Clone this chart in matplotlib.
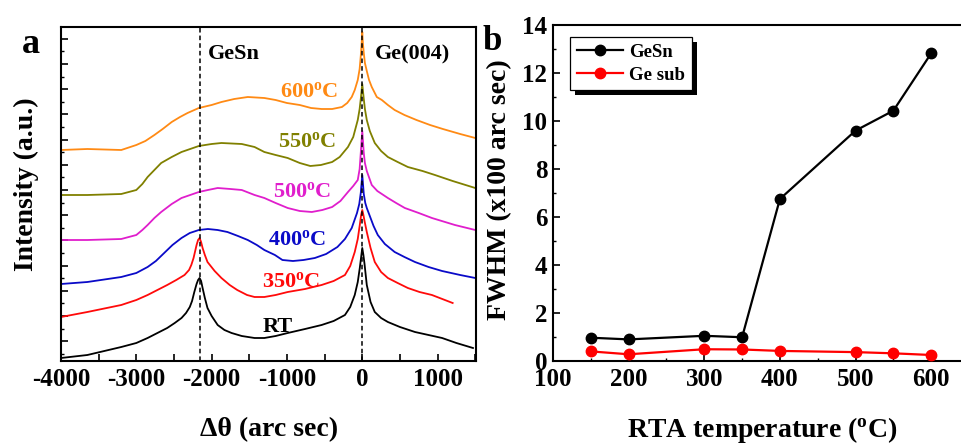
import matplotlib
matplotlib.use("Agg")
import matplotlib.pyplot as plt
from matplotlib.ticker import MultipleLocator, FixedLocator, NullFormatter
from matplotlib.patches import Rectangle
from matplotlib.transforms import IdentityTransform
import numpy as np

plt.rcParams["font.family"] = ["Liberation Serif", "DejaVu Serif"]
plt.rcParams["font.weight"] = "bold"
plt.rcParams["axes.unicode_minus"] = False
plt.rcParams["mathtext.fontset"] = "custom"
plt.rcParams["mathtext.rm"] = "Liberation Serif:bold"
plt.rcParams["mathtext.bf"] = "Liberation Serif:bold"
plt.rcParams["mathtext.it"] = "Liberation Serif:bold:italic"

# ---- (a) XRD rocking curves, offset vertically (arbitrary units) ----
theta_600 = [-4000, -3650, -3200, -3000, -2880, -2760, -2650, -2530, -2420, -2320, -2170,
             -2000, -1870, -1700, -1520, -1300, -1150, -1000, -830, -680, -540, -400,
             -270, -200, -140, -100, -60, -35, -20, -8, 0, 8, 20, 35, 60, 90, 126, 193,
             260, 340, 430, 560, 720, 900, 1070, 1300, 1500]
int_600 = [211, 212, 211, 216, 220, 226, 232, 239, 244, 248, 253,
           256, 259, 262, 264, 263, 261, 258, 256, 253, 252, 252,
           254, 258, 264, 271, 281, 292, 305, 318, 329, 318, 308, 298, 290, 281, 274, 264,
           261, 256, 251, 246, 241, 236, 232, 227, 223]

theta_550 = [-4000, -3650, -3200, -3000, -2920, -2850, -2760, -2670, -2530, -2400, -2170,
             -2000, -1870, -1600, -1430, -1300, -1150, -990, -830, -690, -550, -400,
             -300, -190, -120, -60, -35, -20, 0, 20, 35, 60, 100, 166, 250, 340, 470,
             605, 800, 965, 1200, 1500]
int_550 = [166, 166, 167, 171, 177, 184, 191, 198, 204, 209, 215,
           217, 218, 217, 214, 209, 206, 203, 198, 195, 196, 199,
           204, 214, 224, 241, 252, 262, 277, 262, 252, 241, 230, 218, 210, 204, 199,
           194, 190, 186, 180, 173]

theta_500 = [-4000, -3650, -3200, -3000, -2920, -2850, -2760, -2670, -2530, -2400, -2170,
             -2050, -1920, -1750, -1600, -1430, -1300, -1150, -990, -830, -670, -530,
             -400, -290, -190, -120, -60, -35, -20, 0, 20, 35, 60, 126, 200, 340, 450,
             565, 750, 925, 1230, 1500]
int_500 = [121, 121, 122, 126, 131, 136, 143, 149, 157, 163, 169,
           171, 173, 172, 171, 166, 163, 158, 153, 150, 149, 151,
           154, 160, 169, 175, 181, 192, 208, 230, 208, 198, 190, 176, 170, 163, 158,
           153, 148, 143, 136, 131]

theta_400 = [-4000, -3650, -3200, -3000, -2850, -2740, -2630, -2520, -2400, -2290, -2170,
             -2050, -1920, -1790, -1650, -1520, -1400, -1300, -1160, -1060, -920, -780,
             -630, -480, -330, -230, -140, -70, -40, -20, 0, 20, 40, 60, 100, 150, 206,
             300, 430, 560, 700, 880, 1060, 1300, 1500]
int_400 = [77, 79, 84, 88, 94, 100, 108, 116, 123, 128, 131,
           132, 131, 129, 125, 121, 116, 111, 106, 101, 100, 101,
           103, 107, 114, 122, 133, 148, 157, 168, 186, 167, 158, 153, 145, 135, 126,
           117, 109, 104, 99, 94, 90, 86, 83]

theta_350 = [-4000, -3650, -3200, -3000, -2850, -2720, -2590, -2470, -2360, -2300, -2270,
             -2240, -2200, -2180, -2160, -2140, -2120, -2090, -2055, -1960, -1870, -1760,
             -1660, -1530, -1430, -1300, -1150, -990, -760, -540, -380, -230, -160, -100,
             -60, -33, -15, 0, 15, 30, 60, 110, 166, 250, 340, 470, 605, 760, 925, 1200]
int_350 = [44, 49, 56, 61, 66, 71, 76, 81, 86, 91, 96,
           103, 116, 121, 123, 119, 113, 106, 99, 90, 83, 76,
           71, 66, 64, 64, 66, 69, 72, 76, 80, 86, 95, 109,
           122, 136, 146, 151, 146, 140, 129, 113, 99, 89, 83, 78, 73, 69, 66, 58]

theta_rt = [-4000, -3650, -3200, -3000, -2850, -2720, -2590, -2490, -2400, -2340, -2290,
            -2260, -2230, -2200, -2180, -2160, -2140, -2120, -2090, -2055, -2000, -1920,
            -1830, -1735, -1600, -1430, -1300, -1150, -990, -760, -540, -380, -230, -160,
            -100, -60, -33, -15, 0, 15, 30, 60, 110, 166, 250, 340, 500, 700, 880, 1060,
            1250, 1470]
int_rt = [3, 6, 14, 18, 23, 28, 33, 38, 43, 48, 54,
          60, 69, 77, 81, 83, 80, 73, 63, 53, 45, 36,
          31, 28, 25, 23, 23, 25, 28, 32, 36, 40, 46, 54,
          66, 79, 93, 104, 113, 106, 97, 76, 59, 49, 43, 39, 34, 29, 26, 23,
          18, 13]

curve_labels = ["600$^{\\rm o}$C", "550$^{\\rm o}$C", "500$^{\\rm o}$C",
                "400$^{\\rm o}$C", "350$^{\\rm o}$C", "RT"]
curve_colors = ["#FF8A14", "#808000", "#E01ECC", "#0A0AC8", "#FF0A0A", "#000000"]
label_pos = [(-1097, 264), (-1124, 214), (-1190, 164), (-1257, 116), (-1336, 74), (-1323, 29)]

peak_gesn = -2160
peak_ge = 0

# ---- (b) FWHM versus RTA temperature ----
rta_temp = [150, 200, 300, 350, 400, 500, 550, 600]
fwhm_gesn = [0.97, 0.90, 1.05, 0.99, 6.75, 9.60, 10.43, 12.82]
fwhm_gesub = [0.40, 0.28, 0.49, 0.48, 0.42, 0.37, 0.32, 0.25]

W, H = 961, 444
fig = plt.figure(figsize=(W / 100, H / 100), dpi=100)

def px_box(x0, y0, x1, y1):
    return [x0 / W, 1 - y1 / H, (x1 - x0) / W, (y1 - y0) / H]

tick_fs = 18

# panel (a)
ax1 = fig.add_axes(px_box(61, 27, 476, 361))
curves = [(theta_600, int_600), (theta_550, int_550), (theta_500, int_500),
          (theta_400, int_400), (theta_350, int_350), (theta_rt, int_rt)]
for (th, it), col in zip(curves, curve_colors):
    ax1.plot(th, it, color=col, lw=1.3, zorder=2)
for (tx, ty), lab, col in zip(label_pos, curve_labels, curve_colors):
    ax1.text(tx, ty, lab, color=col, fontsize=16, fontweight="bold",
             ha="left", va="baseline")
for xv in (peak_gesn, peak_ge):
    ax1.axvline(xv, color="black", lw=1.1, ls=(0, (3, 2)), zorder=3)
ax1.text(-2054, 302, "GeSn", fontsize=16, fontweight="bold", ha="left", va="baseline")
ax1.text(166, 302, "Ge(004)", fontsize=16, fontweight="bold", ha="left", va="baseline")

ax1.set_xlim(-4000, 1510)
ax1.set_ylim(0, 334)
ax1.xaxis.set_major_locator(MultipleLocator(1000))
ax1.xaxis.set_minor_locator(MultipleLocator(500))
ax1.yaxis.set_major_locator(FixedLocator(np.arange(19.8, 334, 25.2)))
ax1.yaxis.set_minor_locator(FixedLocator(np.arange(19.8 - 12.6, 334, 25.2)))
ax1.yaxis.set_major_formatter(NullFormatter())
ax1.tick_params(axis="x", which="both", direction="in", length=5, width=1.2,
                labelsize=tick_fs, pad=5, top=False)
ax1.tick_params(axis="y", which="major", direction="in", length=5, width=1.2, right=False)
ax1.tick_params(axis="y", which="minor", direction="in", length=2.5, width=1.0, right=False)
for lab in ax1.get_xticklabels():
    lab.set_fontweight("bold")
for sp in ax1.spines.values():
    sp.set_linewidth(1.5)

fig.text(26 / W, 1 - 184 / H, "Intensity (a.u.)", rotation=90, fontsize=20,
         fontweight="bold", ha="center", va="center")
fig.text(269 / W, 1 - 430 / H, "\u0394\u03b8 (arc sec)", fontsize=20,
         fontweight="bold", ha="center", va="center")
fig.text(22 / W, 1 - 53 / H, "a", fontsize=26, fontweight="bold", va="baseline")

# panel (b)
ax2 = fig.add_axes(px_box(553, 25, 969, 361))
ax2.plot(rta_temp, fwhm_gesn, color="black", lw=1.6, marker="o", ms=7.5, label="GeSn", zorder=3)
ax2.plot(rta_temp, fwhm_gesub, color="#FF0000", lw=1.6, marker="o", ms=7.5, label="Ge sub", zorder=3)
ax2.set_xlim(100, 650)
ax2.set_ylim(0, 14)
ax2.xaxis.set_major_locator(MultipleLocator(100))
ax2.xaxis.set_minor_locator(MultipleLocator(50))
ax2.yaxis.set_major_locator(MultipleLocator(2))
ax2.yaxis.set_minor_locator(MultipleLocator(1))
ax2.tick_params(which="major", direction="in", length=5, width=1.2, labelsize=tick_fs,
                top=False, right=False)
ax2.tick_params(axis="x", which="major", pad=5)
ax2.tick_params(axis="y", which="major", pad=4)
ax2.tick_params(which="minor", direction="in", length=2.5, width=1.0, top=False, right=False)
for lab in ax2.get_xticklabels() + ax2.get_yticklabels():
    lab.set_fontweight("bold")
for sp in ax2.spines.values():
    sp.set_linewidth(1.5)

leg = ax2.legend(loc="upper left", bbox_to_anchor=(0.041, 0.964), borderaxespad=0,
                 frameon=True, fancybox=False, framealpha=1, edgecolor="black",
                 handlelength=2.5, handletextpad=0.3, borderpad=0.35, labelspacing=0.3,
                 prop={"family": "Liberation Serif", "weight": "bold", "size": 13.5})
leg.get_frame().set_linewidth(0.9)
leg.set_zorder(6)
fig.canvas.draw()
bb = leg.get_window_extent()
ax2.add_patch(Rectangle((bb.x0 + 5, bb.y0 - 5), bb.width, bb.height, transform=IdentityTransform(),
                        facecolor="black", edgecolor="none", zorder=5.5, clip_on=False))

fig.text(500 / W, 1 - 190 / H, "FWHM (x100 arc sec)", rotation=90, fontsize=20,
         fontweight="bold", ha="center", va="center")
fig.text(762 / W, 1 - 430 / H, "RTA temperature ($^{\\rm o}$C)", fontsize=20,
         fontweight="bold", ha="center", va="center")
fig.text(483 / W, 1 - 50 / H, "b", fontsize=25, fontweight="bold", va="baseline")

fig.savefig("out.png", dpi=100)
